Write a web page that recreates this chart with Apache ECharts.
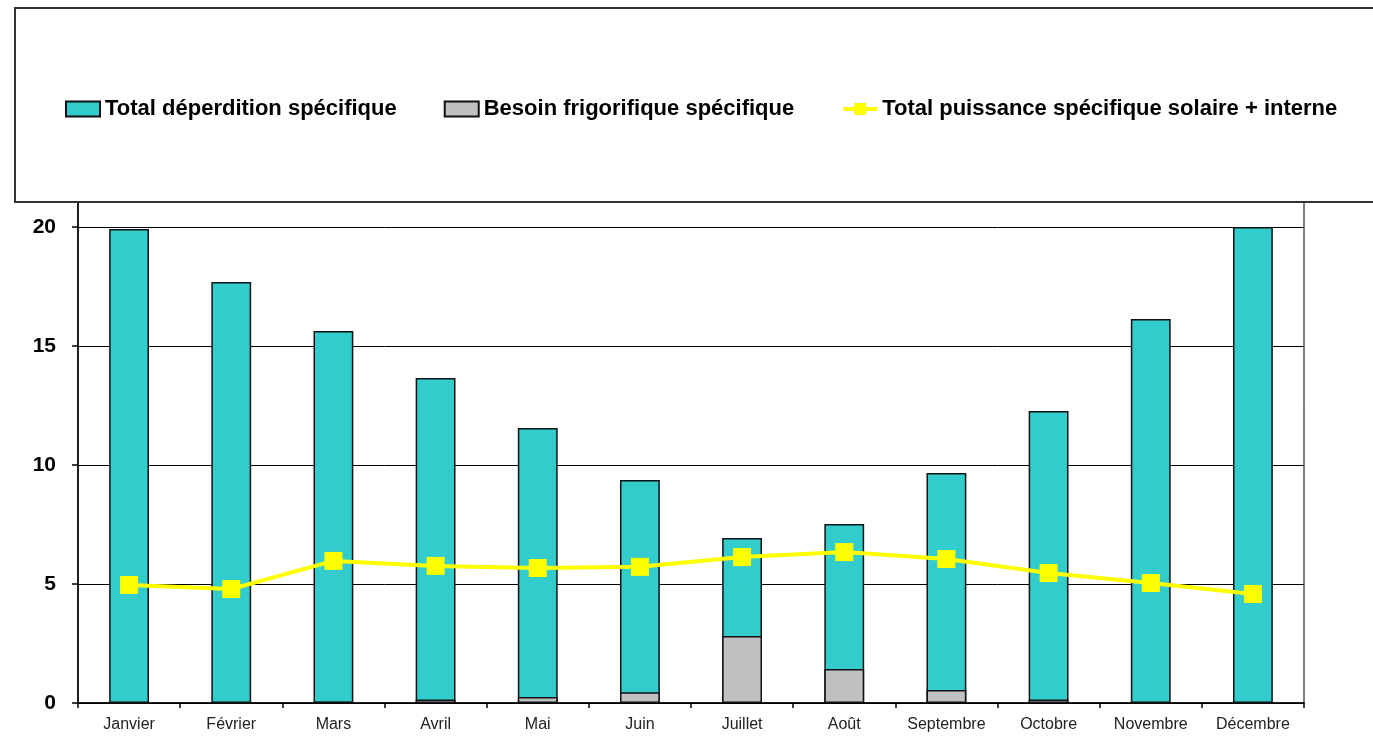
<!DOCTYPE html>
<html>
<head>
<meta charset="utf-8">
<script src="https://cdn.jsdelivr.net/npm/echarts@6/dist/echarts.min.js"></script>
<style>
  html, body { margin: 0; padding: 0; background: #fff; }
  #chart { width: 1373px; height: 737px; }
</style>
</head>
<body>
<div id="chart"></div>
<script>
// Monthly specific loads (W/m²)
const months = ['Janvier', 'Février', 'Mars', 'Avril', 'Mai', 'Juin', 'Juillet', 'Août', 'Septembre', 'Octobre', 'Novembre', 'Décembre'];
const deperdition = [19.92, 17.69, 15.63, 13.66, 11.55, 9.37, 6.93, 7.52, 9.66, 12.27, 16.13, 20.0];
const frigorifique = [0, 0, 0.05, 0.15, 0.25, 0.45, 2.82, 1.43, 0.55, 0.15, 0, 0];
const puissance = [4.96, 4.79, 5.97, 5.76, 5.67, 5.72, 6.13, 6.34, 6.05, 5.46, 5.04, 4.58];
const yTicks = [0, 5, 10, 15, 20, 25];

const FONT = '"Liberation Sans", Arial, sans-serif';

const chart = echarts.init(document.getElementById('chart'), null, { renderer: 'canvas' });

chart.setOption({
  animation: false,
  backgroundColor: '#ffffff',
  grid: {
    left: 78, right: 69, top: 108, bottom: 34,
    show: true, borderColor: '#000', borderWidth: 1, backgroundColor: 'transparent'
  },
  legend: {
    z: 10,
    left: 65,
    top: 98,
    padding: 0,
    itemWidth: 34,
    itemHeight: 15,
    itemGap: 47,
    textStyle: { fontFamily: FONT, fontWeight: 'bold', fontSize: 22, color: '#000' },
    data: [
      { name: 'Total déperdition spécifique', icon: 'rect' },
      { name: 'Besoin frigorifique spécifique', icon: 'rect' },
      { name: 'Total puissance spécifique solaire + interne', lineStyle: { width: 4 } }
    ]
  },
  // Legend frame drawn over the upper part of the plot
  graphic: [{
    type: 'rect',
    z: 3,
    shape: { x: 15, y: 8, width: 1380, height: 194 },
    style: { fill: '#fff', stroke: '#333', lineWidth: 2 }
  }],
  xAxis: {
    type: 'category',
    data: months,
    axisLine: { lineStyle: { color: '#000', width: 1.5 } },
    axisTick: { show: true, length: 5, lineStyle: { color: '#000', width: 1.5 } },
    axisLabel: { fontFamily: FONT, fontSize: 16, color: '#222', margin: 14, interval: 0 },
    splitLine: { show: false }
  },
  yAxis: {
    type: 'value',
    min: yTicks[0],
    max: yTicks[yTicks.length - 1],
    interval: 5,
    axisLine: { show: true, lineStyle: { color: '#000', width: 1.5 } },
    axisTick: { show: true, length: 6, lineStyle: { color: '#000', width: 1.5 } },
    axisLabel: { fontFamily: FONT, fontSize: 21, fontWeight: 'bold', color: '#000', margin: 22 },
    splitLine: { show: true, lineStyle: { color: '#000', width: 1 } }
  },
  series: [
    {
      name: 'Total déperdition spécifique',
      type: 'bar',
      data: deperdition,
      barWidth: '39%',
      itemStyle: { color: '#33CCCC', borderColor: '#111', borderWidth: 1.5 }
    },
    {
      name: 'Besoin frigorifique spécifique',
      type: 'bar',
      data: frigorifique,
      barWidth: '39%',
      barGap: '-100%',
      itemStyle: { color: '#C0C0C0', borderColor: '#111', borderWidth: 1.5 }
    },
    {
      name: 'Total puissance spécifique solaire + interne',
      type: 'line',
      data: puissance,
      symbol: 'rect',
      symbolSize: 18,
      lineStyle: { color: '#FFFF00', width: 4 },
      itemStyle: { color: '#FFFF00' },
      z: 2.5
    }
  ]
});
</script>
</body>
</html>
